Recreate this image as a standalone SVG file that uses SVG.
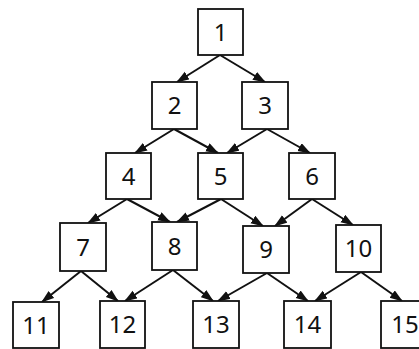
<svg xmlns="http://www.w3.org/2000/svg" width="419" height="349" viewBox="0 0 419 349">
<style>
.box{fill:#fff;stroke:#111;stroke-width:1.8}
.lbl{font-family:"Noto Sans","Open Sans","DejaVu Sans",sans-serif;font-size:24px;fill:#111;text-anchor:middle}
.edge{stroke:#111;stroke-width:2;fill:none;marker-end:url(#ah)}
</style>
<defs>
<marker id="ah" markerUnits="userSpaceOnUse" markerWidth="13" markerHeight="10" refX="12" refY="4.5" orient="auto">
<path d="M0,0 L13,4.5 L0,9 z" fill="#111"/>
</marker>
</defs>
<rect width="419" height="349" fill="#fff"/>
<g id="connectors">
<line class="edge" x1="220" y1="55" x2="177" y2="82"/>
<line class="edge" x1="220" y1="55" x2="265" y2="82"/>
<line class="edge" x1="174" y1="129" x2="135" y2="153"/>
<line class="edge" x1="174" y1="129" x2="218" y2="153"/>
<line class="edge" x1="267" y1="129" x2="227" y2="153"/>
<line class="edge" x1="267" y1="129" x2="310" y2="153"/>
<line class="edge" x1="127" y1="199" x2="88" y2="223"/>
<line class="edge" x1="127" y1="199" x2="170" y2="222"/>
<line class="edge" x1="221" y1="199" x2="177" y2="222"/>
<line class="edge" x1="221" y1="199" x2="263" y2="226"/>
<line class="edge" x1="312" y1="199" x2="275" y2="226"/>
<line class="edge" x1="312" y1="199" x2="353" y2="225"/>
<line class="edge" x1="81" y1="271" x2="42" y2="302"/>
<line class="edge" x1="81" y1="271" x2="118" y2="301"/>
<line class="edge" x1="173" y1="270" x2="125" y2="301"/>
<line class="edge" x1="173" y1="270" x2="213" y2="301"/>
<line class="edge" x1="267" y1="273" x2="218" y2="301"/>
<line class="edge" x1="267" y1="273" x2="308" y2="301"/>
<line class="edge" x1="361" y1="272" x2="315" y2="301"/>
<line class="edge" x1="361" y1="272" x2="402" y2="301"/>
</g>
<g id="n1"><rect class="box" x="198" y="9" width="45" height="46"/><text class="lbl" x="220.5" y="40.5">1</text></g>
<g id="n2"><rect class="box" x="152" y="82" width="45" height="47"/><text class="lbl" x="174.5" y="114">2</text></g>
<g id="n3"><rect class="box" x="242" y="82" width="46" height="47"/><text class="lbl" x="265" y="114">3</text></g>
<g id="n4"><rect class="box" x="106" y="153" width="45" height="46"/><text class="lbl" x="128.5" y="184.5">4</text></g>
<g id="n5"><rect class="box" x="198" y="153" width="45" height="46"/><text class="lbl" x="220.5" y="184.5">5</text></g>
<g id="n6"><rect class="box" x="289" y="153" width="46" height="46"/><text class="lbl" x="312" y="184.5">6</text></g>
<g id="n7"><rect class="box" x="60" y="223" width="46" height="48"/><text class="lbl" x="83" y="255.5">7</text></g>
<g id="n8"><rect class="box" x="152" y="222" width="45" height="48"/><text class="lbl" x="174.5" y="254.5">8</text></g>
<g id="n9"><rect class="box" x="243" y="226" width="46" height="47"/><text class="lbl" x="266" y="258">9</text></g>
<g id="n10"><rect class="box" x="336" y="225" width="45" height="47"/><text class="lbl" x="358.5" y="257">10</text></g>
<g id="n11"><rect class="box" x="13" y="302" width="46" height="46"/><text class="lbl" x="36" y="333.5">11</text></g>
<g id="n12"><rect class="box" x="100" y="301" width="45" height="47"/><text class="lbl" x="122.5" y="333">12</text></g>
<g id="n13"><rect class="box" x="193" y="301" width="46" height="47"/><text class="lbl" x="216" y="333">13</text></g>
<g id="n14"><rect class="box" x="284" y="301" width="47" height="47"/><text class="lbl" x="307.5" y="333">14</text></g>
<g id="n15"><rect class="box" x="381" y="301" width="48" height="47"/><text class="lbl" x="405" y="333">15</text></g>
</svg>
